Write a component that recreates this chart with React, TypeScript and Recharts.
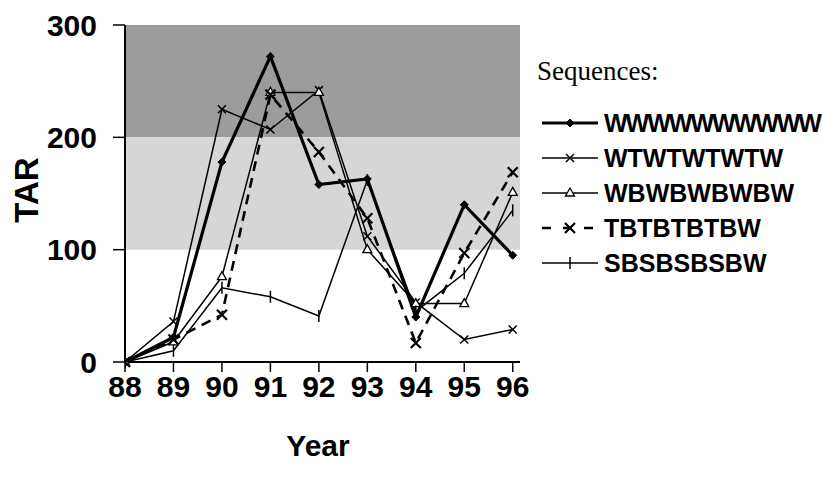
import React from 'react';
import { LineChart, Line, XAxis, YAxis, ReferenceArea, Label } from 'recharts';

const years = [88, 89, 90, 91, 92, 93, 94, 95, 96];
const yTicks = [0, 100, 200, 300];
const wwwValues = [0, 22, 178, 272, 158, 163, 40, 140, 95];
const wtwValues = [0, 36, 225, 207, 242, 112, 53, 20, 29];
const wbwValues = [0, 18, 76, 240, 240, 100, 52, 52, 151];
const tbtValues = [0, 20, 42, 238, 187, 128, 17, 97, 169];
const sbsValues = [0, 10, 66, 58, 41, 162, 45, 79, 135];

const seriesNames = ['WWWWWWWWWW', 'WTWTWTWTW', 'WBWBWBWBW', 'TBTBTBTBW', 'SBSBSBSBW'];
const seriesKeys = ['www', 'wtw', 'wbw', 'tbt', 'sbs'];

const data = years.map((y, i) => ({
  year: y,
  www: wwwValues[i],
  wtw: wtwValues[i],
  wbw: wbwValues[i],
  tbt: tbtValues[i],
  sbs: sbsValues[i],
}));

type Shape = 'diamond' | 'x' | 'triangle' | 'boldx' | 'bar';

const marker = (shape: Shape, cx: number, cy: number, key?: any) => {
  switch (shape) {
    case 'diamond':
      return <path key={key} d={`M${cx},${cy - 4}L${cx + 4},${cy}L${cx},${cy + 4}L${cx - 4},${cy}Z`} fill="#000" stroke="#000" strokeWidth={1} />;
    case 'x':
      return <path key={key} d={`M${cx - 4},${cy - 4}L${cx + 4},${cy + 4}M${cx - 4},${cy + 4}L${cx + 4},${cy - 4}`} stroke="#000" strokeWidth={1.5} fill="none" />;
    case 'triangle':
      return <path key={key} d={`M${cx},${cy - 5}L${cx + 4.5},${cy + 3}L${cx - 4.5},${cy + 3}Z`} stroke="#000" strokeWidth={1.3} fill="#fff" />;
    case 'boldx':
      return <path key={key} d={`M${cx - 5},${cy - 5}L${cx + 5},${cy + 5}M${cx - 5},${cy + 5}L${cx + 5},${cy - 5}`} stroke="#000" strokeWidth={2.2} fill="none" />;
    case 'bar':
    default:
      return <path key={key} d={`M${cx},${cy - 6}L${cx},${cy + 6}`} stroke="#000" strokeWidth={1.5} fill="none" />;
  }
};

const styles: { shape: Shape; width: number; dash?: string }[] = [
  { shape: 'diamond', width: 3.2 },
  { shape: 'x', width: 1.5 },
  { shape: 'triangle', width: 1.5 },
  { shape: 'boldx', width: 2.6, dash: '10 7' },
  { shape: 'bar', width: 1.5 },
];

const font = '"Liberation Sans", Arial, sans-serif';

export default function App() {
  return (
    <div style={{ position: 'absolute', left: 0, top: 0, width: 822, height: 485, background: '#fff', overflow: 'hidden' }}>
      <LineChart
        width={822}
        height={485}
        data={data}
        margin={{ top: 25, right: 302, bottom: 0, left: 0 }}
      >
        <ReferenceArea x1={88} x2={96.15} y1={200} y2={300} fill="#9c9c9c" fillOpacity={1} stroke="none" />
        <ReferenceArea x1={88} x2={96.15} y1={100} y2={200} fill="#d6d6d6" fillOpacity={1} stroke="none" />
        <XAxis
          dataKey="year"
          type="number"
          domain={[88, 96.15]}
          ticks={years}
          allowDataOverflow
          height={123}
          tickSize={10}
          tickMargin={4}
          axisLine={{ stroke: '#000', strokeWidth: 2 }}
          tickLine={{ stroke: '#000', strokeWidth: 1.5 }}
          tick={{ fill: '#000', fontSize: 30, fontWeight: 700, fontFamily: font }}
          interval={0}
        >
          <Label
            content={() => (
              <text x={318} y={456} textAnchor="middle" fontSize={30} fontWeight={700} fontFamily={font} fill="#000">
                Year
              </text>
            )}
          />
        </XAxis>
        <YAxis
          type="number"
          domain={[0, 300]}
          ticks={yTicks}
          width={125}
          tickSize={12}
          tickMargin={16}
          axisLine={{ stroke: '#000', strokeWidth: 2 }}
          tickLine={{ stroke: '#000', strokeWidth: 1.5 }}
          tick={{ fill: '#000', fontSize: 30, fontWeight: 700, fontFamily: font }}
        >
          <Label
            content={() => (
              <text x={38} y={190} transform="rotate(-90 38 190)" textAnchor="middle" fontSize={33} fontWeight={700} fontFamily={font} fill="#000">
                TAR
              </text>
            )}
          />
        </YAxis>
        {seriesKeys.map((k, i) => (
          <Line
            key={k}
            dataKey={k}
            name={seriesNames[i]}
            type="linear"
            stroke="#000"
            strokeWidth={styles[i].width}
            strokeDasharray={styles[i].dash}
            isAnimationActive={false}
            dot={(p: any) => marker(styles[i].shape, p.cx, p.cy, `${k}-${p.index}`)}
            activeDot={false}
          />
        ))}
      </LineChart>
      <div style={{ position: 'absolute', left: 537, top: 56, fontFamily: '"Liberation Serif", "Times New Roman", serif', fontSize: 27, color: '#000', whiteSpace: 'nowrap' }}>
        Sequences:
      </div>
      {seriesNames.map((n, i) => (
        <div
          key={n}
          style={{ position: 'absolute', left: 540, top: 108 + i * 35, height: 30, display: 'flex', alignItems: 'center', whiteSpace: 'nowrap' }}
        >
          <svg width={62} height={30} style={{ display: 'block' }}>
            <line x1={2} y1={15} x2={58} y2={15} stroke="#000" strokeWidth={styles[i].width} strokeDasharray={styles[i].dash ? '9 12' : undefined} />
            {marker(styles[i].shape, 30, 15)}
          </svg>
          <span style={{ fontFamily: font, fontWeight: 700, fontSize: 25, color: '#000', marginLeft: 2, letterSpacing: i === 0 ? -2 : 0 }}>{n}</span>
        </div>
      ))}
    </div>
  );
}
